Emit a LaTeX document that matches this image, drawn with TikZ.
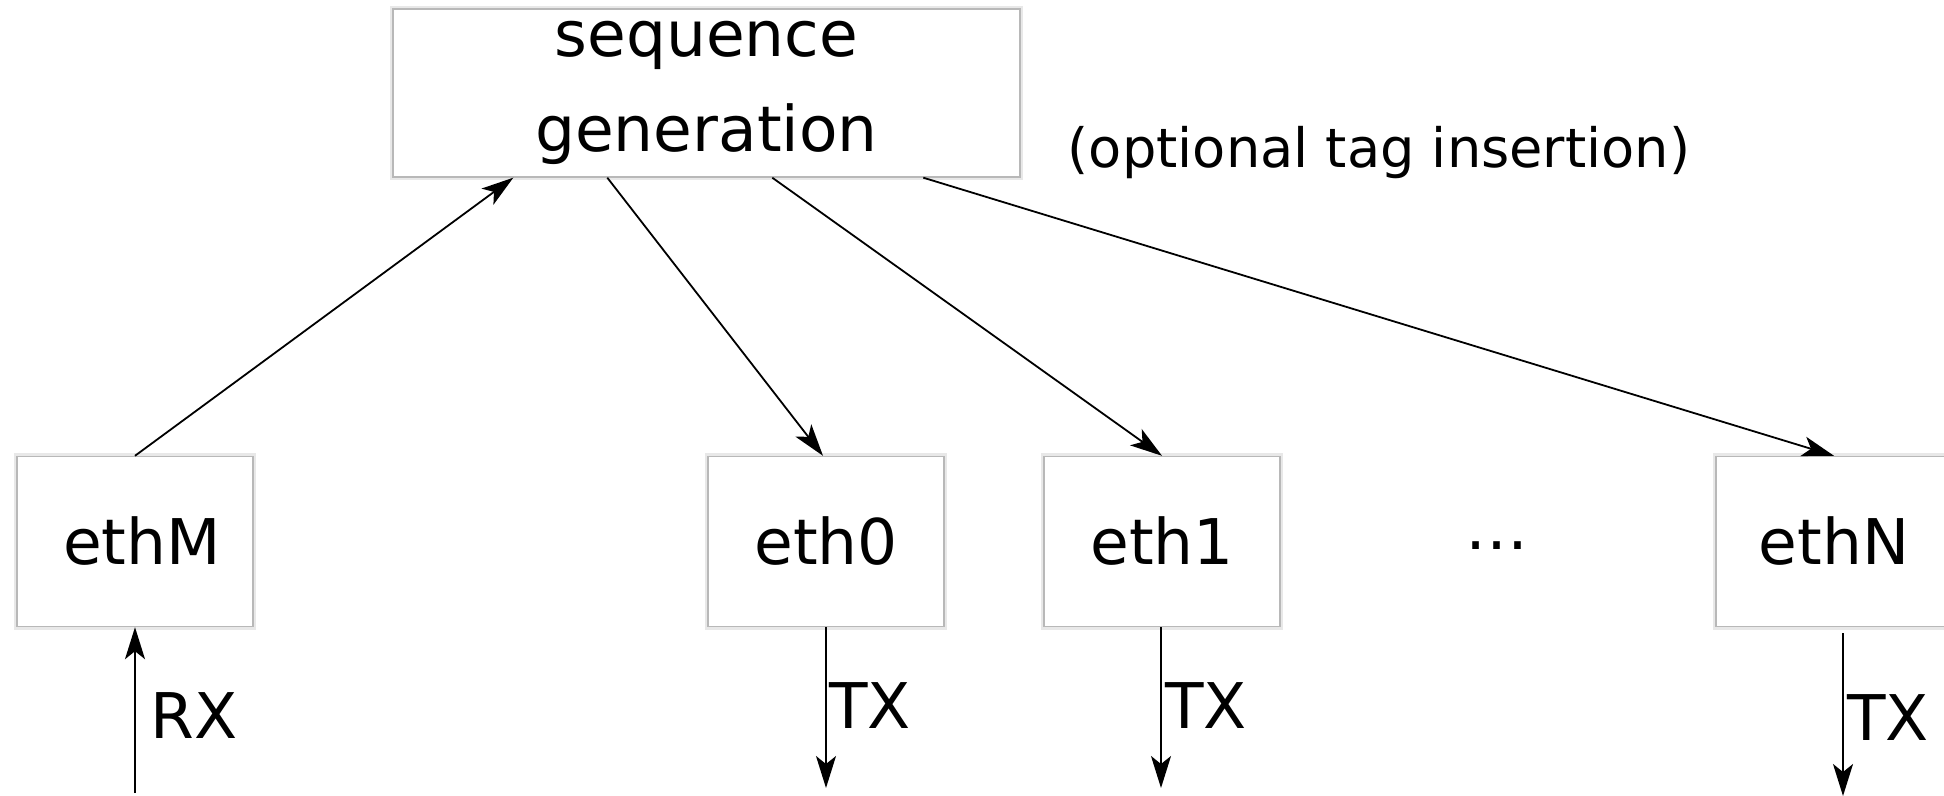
\documentclass[tikz,border=0pt]{standalone}
\usepackage{fontspec}
\setmainfont{DejaVu Sans}
\usetikzlibrary{arrows.meta}
\begin{document}
\begin{tikzpicture}[x=0.5pt,y=-0.5pt,
  box/.style={rectangle, fill=white, draw=black!28, line width=0.7pt,
    preaction={draw=black!9, line width=3pt},
    inner sep=0pt, font=\fontsize{31.5}{47.5}\selectfont},
  ethbox/.style={box, minimum width=118pt, minimum height=85pt},
  conn/.style={line width=0.9pt, -{Stealth[length=16pt,width=10pt,inset=4pt]}},
  lbl/.style={inner sep=0pt, anchor=base west, font=\fontsize{31.5}{38}\selectfont},
  note/.style={inner sep=0pt, anchor=base, font=\fontsize{27.1}{33}\selectfont}]
\useasboundingbox (0,0) rectangle (1944,796);

% generator block
\node[box, align=center, minimum width=313.5pt, minimum height=84pt] (seq)
  at (706.5,93) {sequence\\generation};
\node[note] (tag) at (1379,168) {(optional tag insertion)};

% interfaces
\node[ethbox] (ethM) at (135,541.5) {\hspace*{7pt}ethM};
\node[ethbox] (eth0) at (826,541.5) {eth0};
\node[ethbox] (eth1) at (1162,541.5) {eth1};
\node[ethbox] (ethN) at (1834,541.5) {ethN};
\node[inner sep=0pt, font=\fontsize{31.5}{38}\selectfont] (dots) at (1497,546) {…};

% receive side into the generator
\draw[conn] (ethM.north) -- ([xshift=60.5pt]seq.south west);

% generator out to the transmit ports
\draw[conn] ([xshift=107.5pt]seq.south west) -- ([xshift=-1.5pt]eth0.north);
\draw[conn] ([xshift=190pt]seq.south west) -- (eth1.north);
\draw[conn] ([xshift=265.5pt]seq.south west) -- (ethN.north);

% external RX / TX links
\coordinate (rxin) at (135,793);
\coordinate (tx0) at (826,788);
\coordinate (tx1) at (1161,788);
\coordinate (txN) at (1843,796);
\draw[conn] (rxin) -- (ethM.south);
\draw[conn] (eth0.south) -- (tx0);
\draw[conn] ([xshift=-0.5pt]eth1.south) -- (tx1);
\draw[conn] ([xshift=4.5pt,yshift=-3pt]ethN.south) -- (txN);

\node[lbl] (rxl) at (150,738) {RX};
\node[lbl] (tx0l) at (829,728) {TX};
\node[lbl] (tx1l) at (1165,728) {TX};
\node[lbl] (txNl) at (1847,740) {TX};
\end{tikzpicture}
\end{document}
